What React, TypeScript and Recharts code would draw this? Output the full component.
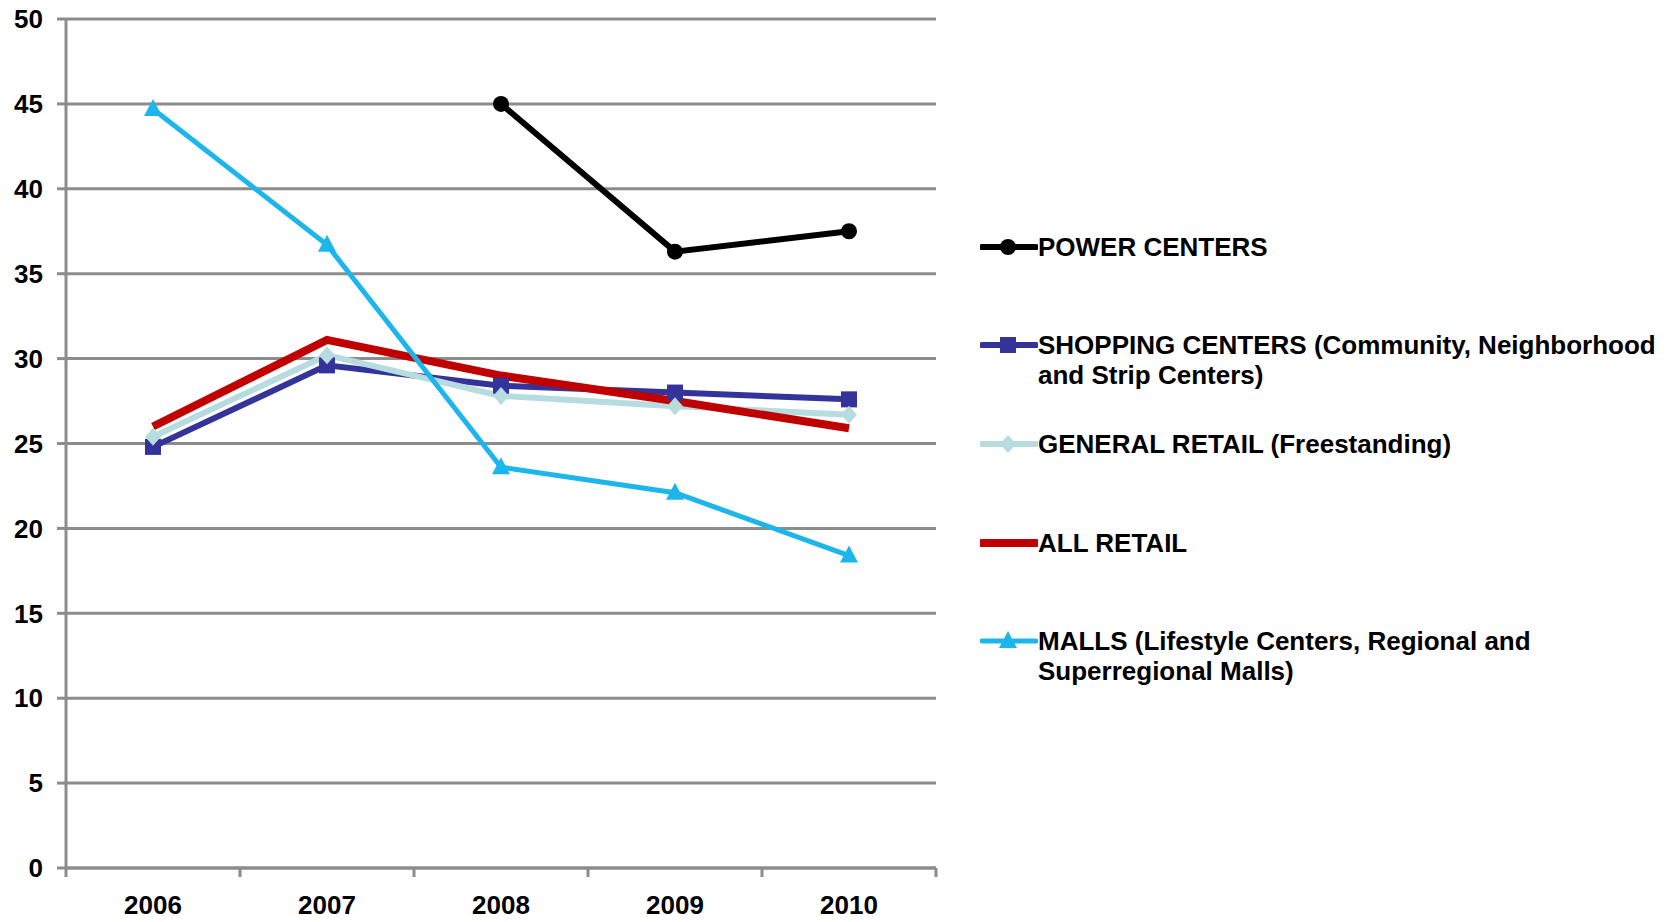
import { Line, LineChart, XAxis, YAxis, CartesianGrid } from "recharts"

const years = ["2006", "2007", "2008", "2009", "2010"]
const powerCenters = [null, null, 45.0, 36.3, 37.5]
const shoppingCenters = [24.8, 29.6, 28.4, 28.0, 27.6]
const generalRetail = [25.4, 30.2, 27.8, 27.2, 26.7]
const allRetail = [26.0, 31.1, 29.0, 27.5, 25.9]
const malls = [44.7, 36.7, 23.6, 22.1, 18.4]
const yTicks = [0, 5, 10, 15, 20, 25, 30, 35, 40, 45, 50]
const boundaryTicks = [-0.5, 0.5, 1.5, 2.5, 3.5, 4.5]

const data = years.map((year, i) => ({
  idx: i,
  year,
  power: powerCenters[i],
  shopping: shoppingCenters[i],
  general: generalRetail[i],
  all: allRetail[i],
  malls: malls[i],
}))

const FONT = "'Liberation Sans', Arial, sans-serif"
const CHART_W = 1667
const CHART_H = 922
const MARGIN = { top: 19, right: 731, left: 0, bottom: 0 }
const Y_AXIS_W = 66
const catWidth = (CHART_W - MARGIN.right - MARGIN.left - Y_AXIS_W) / years.length

// marker shapes: colour comes from the line stroke
const Square = ({ cx, cy, stroke }: any) =>
  cx == null || cy == null ? null : <rect x={cx - 8} y={cy - 8} width={16} height={16} fill={stroke} />

const Diamond = ({ cx, cy, stroke }: any) =>
  cx == null || cy == null ? null : (
    <polygon points={`${cx},${cy - 9} ${cx + 8},${cy} ${cx},${cy + 9} ${cx - 8},${cy}`} fill={stroke} />
  )

const Triangle = ({ cx, cy, stroke }: any) =>
  cx == null || cy == null ? null : (
    <polygon points={`${cx},${cy - 10} ${cx + 9},${cy + 7} ${cx - 9},${cy + 7}`} fill={stroke} />
  )

const Circle = ({ cx, cy, stroke }: any) =>
  cx == null || cy == null ? null : <circle cx={cx} cy={cy} r={8} fill={stroke} />

// ticks sit on category boundaries, labels in the middle of each category
const YearTick = ({ x, y, payload }: any) => {
  const i = Math.round(payload.value + 0.5)
  if (i >= years.length) return <g />
  return (
    <text x={x + catWidth / 2} y={y} dy="0.71em" textAnchor="middle" fill="#000" fontSize={26} fontWeight="bold" fontFamily={FONT}>
      {years[i]}
    </text>
  )
}

const legendItems = [
  { label: ["POWER CENTERS"], color: "#000000", width: 6, marker: "circle", top: 232 },
  { label: ["SHOPPING CENTERS (Community, Neighborhood", "and Strip Centers)"], color: "#333399", width: 6, marker: "square", top: 330 },
  { label: ["GENERAL RETAIL (Freestanding)"], color: "#b7dce0", width: 6, marker: "diamond", top: 429 },
  { label: ["ALL RETAIL"], color: "#c00000", width: 8, marker: "none", top: 528 },
  { label: ["MALLS (Lifestyle Centers, Regional and", "Superregional Malls)"], color: "#1cb5ec", width: 5, marker: "triangle", top: 626 },
]

function LegendIcon({ color, width, marker }: any) {
  const c = 28
  const m = 15
  return (
    <svg width={58} height={30} style={{ display: "block" }}>
      <line x1={2} y1={m} x2={56} y2={m} stroke={color} strokeWidth={width} strokeLinecap="round" />
      {marker === "circle" && <Circle cx={c} cy={m} stroke={color} />}
      {marker === "square" && <Square cx={c} cy={m} stroke={color} />}
      {marker === "diamond" && <Diamond cx={c} cy={m} stroke={color} />}
      {marker === "triangle" && <Triangle cx={c} cy={m} stroke={color} />}
    </svg>
  )
}

export default function App() {
  return (
    <div style={{ position: "relative", width: CHART_W, height: CHART_H, background: "#fff", fontFamily: FONT }}>
      <style>{`body{margin:0}`}</style>
      <LineChart width={CHART_W} height={CHART_H} data={data} margin={MARGIN}>
        <CartesianGrid horizontal vertical={false} stroke="#8c8c8c" strokeWidth={3} />
        <XAxis
          type="number"
          dataKey="idx"
          domain={[-0.5, 4.5]}
          ticks={boundaryTicks}
          interval={0}
          tick={<YearTick />}
          axisLine={{ stroke: "#8c8c8c", strokeWidth: 3 }}
          tickLine={{ stroke: "#8c8c8c", strokeWidth: 3 }}
          tickSize={9}
          tickMargin={19}
          height={54}
        />
        <YAxis
          domain={[0, 50]}
          ticks={yTicks}
          interval={0}
          width={Y_AXIS_W}
          axisLine={{ stroke: "#8c8c8c", strokeWidth: 3 }}
          tickLine={{ stroke: "#8c8c8c", strokeWidth: 3 }}
          tickSize={9}
          tickMargin={14}
          tick={{ fill: "#000", fontSize: 26, fontWeight: "bold", fontFamily: FONT }}
        />
        <Line type="linear" dataKey="power" stroke="#000000" strokeWidth={6} dot={<Circle />} activeDot={false} isAnimationActive={false} />
        <Line type="linear" dataKey="shopping" stroke="#333399" strokeWidth={6} dot={<Square />} activeDot={false} isAnimationActive={false} />
        <Line type="linear" dataKey="general" stroke="#b7dce0" strokeWidth={6} dot={<Diamond />} activeDot={false} isAnimationActive={false} />
        <Line type="linear" dataKey="all" stroke="#c00000" strokeWidth={8} dot={false} activeDot={false} isAnimationActive={false} />
        <Line type="linear" dataKey="malls" stroke="#1cb5ec" strokeWidth={5} dot={<Triangle />} activeDot={false} isAnimationActive={false} />
      </LineChart>
      {legendItems.map((item) => (
        <div key={item.label[0]} style={{ position: "absolute", left: 980, top: item.top, display: "flex", alignItems: "flex-start" }}>
          <LegendIcon color={item.color} width={item.width} marker={item.marker} />
          <div style={{ fontSize: 26, fontWeight: "bold", lineHeight: "30px", color: "#000", whiteSpace: "nowrap" }}>
            {item.label.map((l) => (
              <div key={l}>{l}</div>
            ))}
          </div>
        </div>
      ))}
    </div>
  )
}
